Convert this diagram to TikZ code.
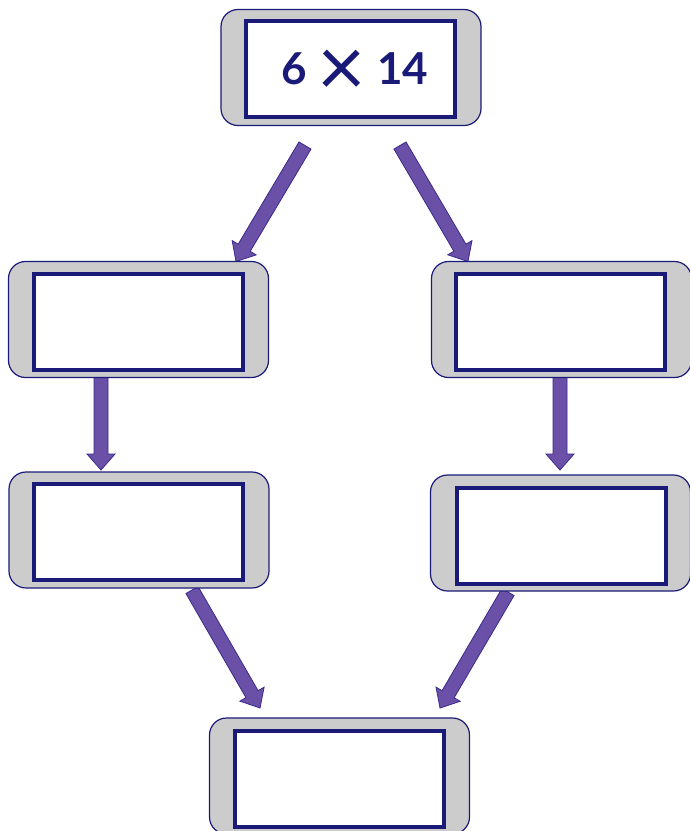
\documentclass[tikz,border=0pt]{standalone}
\usepackage{fontspec}
\setmainfont{Lato}
\usetikzlibrary{calc}
\tikzset{>=latex}
\definecolor{boxnavy}{HTML}{1A1A78}
\definecolor{boxgray}{HTML}{CCCCCC}
\definecolor{arrowfill}{HTML}{6A50A7}
\definecolor{arrowedge}{HTML}{3A2A8C}
\pgfdeclarelayer{background}
\pgfsetlayers{background,main}
\tikzset{
  outerbox/.style={draw=boxnavy, fill=boxgray, line width=1.2pt, rounded corners=17pt,
    minimum width=260pt, minimum height=116pt, inner sep=0pt, outer sep=0pt},
  innerbox/.style={draw=boxnavy, fill=white, line width=4pt, minimum width=209pt,
    minimum height=96pt, inner sep=0pt, outer sep=0pt, text=boxnavy,
    font=\bfseries\fontsize{44}{52}\selectfont},
  fatarrow/.style={draw=arrowedge, fill=arrowfill, line width=0.8pt, line join=miter}
}

\begin{document}
\begin{tikzpicture}[x=1pt,y=-1pt]
  \useasboundingbox (0,0) rectangle (689,831);
  % boxes
  \node[outerbox] (top) at (351,67.5) {};
  \node[innerbox] (topin) at (350.5,69) {};
  \node[text=boxnavy, inner sep=0pt, font=\bfseries\fontsize{44}{52}\selectfont] (prod) at (355,69)
    {6 \raisebox{-12pt}[0pt][0pt]{\scalebox{1.9}{\mdseries ×}} 14};
  \node[outerbox] (l1) at (138.5,319.5) {};
  \node[innerbox] (l1in) at (138.5,322) {};
  \node[outerbox] (r1) at (561.5,319.5) {};
  \node[innerbox] (r1in) at (560,322) {};
  \node[outerbox] (l2) at (139,530) {};
  \node[innerbox] (l2in) at (138.5,532) {};
  \node[outerbox] (r2) at (560.5,533) {};
  \node[innerbox] (r2in) at (561,536) {};
  \node[outerbox] (bot) at (339.5,776) {};
  \node[innerbox] (botin) at (339.5,778.5) {};
  % arrow ends
  \coordinate (tl) at ($(top.south)+(-46,20)$);
  \coordinate (tr) at ($(top.south)+(49,20)$);
  \coordinate (l1n) at ($(l1.north)+(97.5,0)$);
  \coordinate (r1n) at ($(r1.north)+(-93.5,0)$);
  \coordinate (l1s) at ($(l1.south)+(-37.5,0)$);
  \coordinate (l2n) at ($(l2.north)+(-38,-2)$);
  \coordinate (r1s) at ($(r1.south)+(-1.5,0)$);
  \coordinate (r2n) at ($(r2.north)+(-0.5,-5)$);
  \coordinate (l2s) at ($(l2.south)+(53,2)$);
  \coordinate (r2s) at ($(r2.south)+(-52.5,1)$);
  \coordinate (botl) at ($(bot.north)+(-79.5,-10)$);
  \coordinate (botr) at ($(bot.north)+(100.5,-10)$);
  % block arrows
  \begin{pgfonlayer}{background}
  \foreach \a/\b in {tl/l1n, tr/r1n, l1s/l2n, r1s/r2n, l2s/botl, r2s/botr}{
    \coordinate (hb) at ($(\b)!16pt!(\a)$);
    \draw[fatarrow]
      ($(\a)!7pt!90:(\b)$) -- ($(hb)!7pt!90:(\b)$) -- ($(hb)!14pt!90:(\b)$)
      -- (\b) -- ($(hb)!14pt!-90:(\b)$) -- ($(hb)!7pt!-90:(\b)$)
      -- ($(\a)!7pt!-90:(\b)$) -- cycle;
  }
  \end{pgfonlayer}
\end{tikzpicture}
\end{document}
